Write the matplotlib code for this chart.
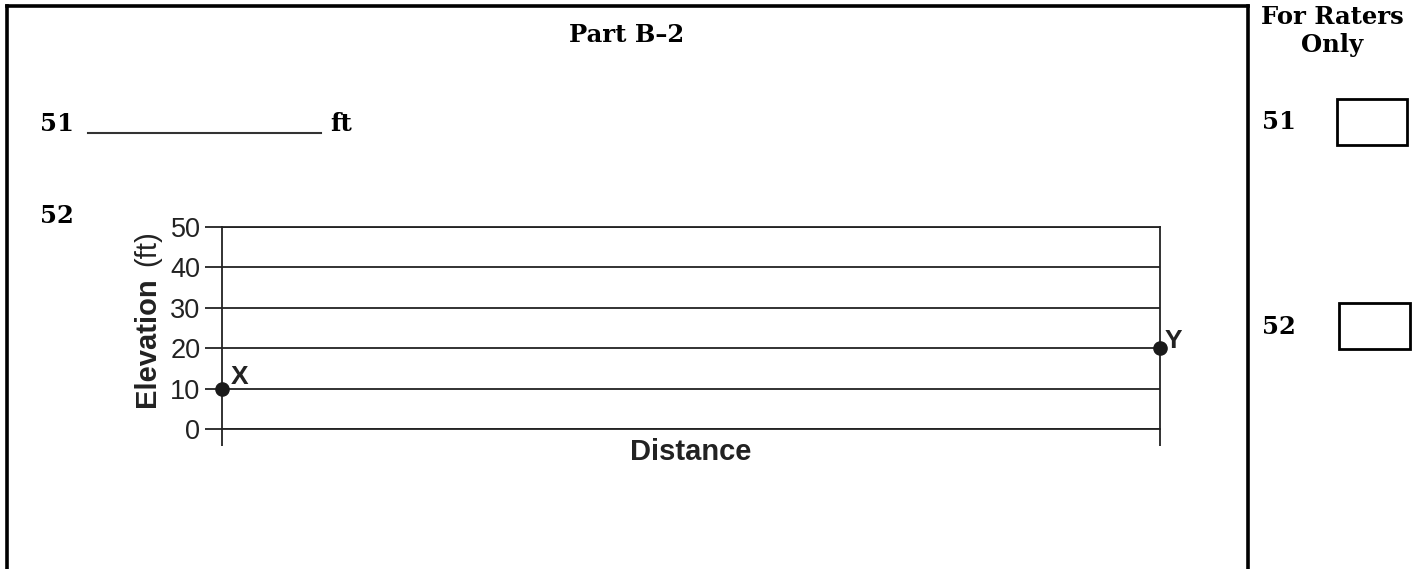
"""Elevation worksheet chart: Part B-2 with points X and Y."""

import matplotlib.pyplot as plt
from matplotlib.lines import Line2D
from matplotlib.patches import Rectangle

W, H = 1421, 569

# chart data
distance = [0, 1]
elevation = [10, 20]
point_names = ["X", "Y"]
y_ticks = [0, 10, 20, 30, 40, 50]
serif = "DejaVu Serif"
sans = "Liberation Sans"
ink = "#222222"


def fx(px):
    return px / W


def fy(py):
    return 1 - py / H


fig = plt.figure(figsize=(W / 100, H / 100), dpi=100)

# outer answer frame
for xs, ys in [((7, 7), (6, H + 5)), ((7, 1248), (6, 6)), ((1248, 1248), (6, H + 5))]:
    fig.add_artist(Line2D([fx(x) for x in xs], [fy(y) for y in ys],
                          transform=fig.transFigure, color="black", lw=2.6))

# header texts
fig.text(fx(627), fy(35), "Part B\u20132", family=serif, weight="bold",
         fontsize=17.5, ha="center", va="center")
fig.text(fx(1332), fy(17), "For Raters", family=serif, weight="bold",
         fontsize=17.5, ha="center", va="center")
fig.text(fx(1332), fy(45), "Only", family=serif, weight="bold",
         fontsize=17.5, ha="center", va="center")

# question 51 / 52
fig.text(fx(40), fy(124), "51", family=serif, weight="bold", fontsize=17.5,
         ha="left", va="center")
fig.add_artist(Line2D([fx(88), fx(321)], [fy(133), fy(133)],
                      transform=fig.transFigure, color="#333333", lw=1.5))
fig.text(fx(330), fy(124), "ft", family=serif, weight="bold", fontsize=17.5,
         ha="left", va="center")
fig.text(fx(40), fy(216), "52", family=serif, weight="bold", fontsize=17.5,
         ha="left", va="center")

# raters column
fig.text(fx(1262), fy(122), "51", family=serif, weight="bold", fontsize=17.5,
         ha="left", va="center")
fig.text(fx(1262), fy(327), "52", family=serif, weight="bold", fontsize=17.5,
         ha="left", va="center")
for x0, y0, x1, y1 in [(1337, 99, 1407, 145), (1339, 303, 1410, 349)]:
    fig.add_artist(Rectangle((fx(x0), fy(y1)), fx(x1 - x0), (y1 - y0) / H,
                             transform=fig.transFigure, fill=False,
                             edgecolor="black", lw=2))

# the graph
ax = fig.add_axes([fx(222), fy(429), fx(1160 - 222), (429 - 227) / H])
ax.set_xlim(0, 1)
ax.set_ylim(0, 50)
ax.set_yticks(y_ticks)
ax.set_xticks(distance)
ax.set_xticklabels([])
ax.yaxis.grid(True, color=ink, lw=1.3)
ax.set_axisbelow(True)
for side in ["top", "bottom", "left", "right"]:
    ax.spines[side].set_color(ink)
    ax.spines[side].set_linewidth(1.3)
ax.tick_params(axis="y", length=12, width=1.3, color=ink, pad=3.5,
               labelsize=19.5, labelfontfamily=sans, labelcolor=ink)
ax.tick_params(axis="x", length=12, width=1.3, color=ink)

ax.plot(distance, elevation, "o", color="#1a1a1a", ms=9.5, clip_on=False,
        zorder=5)
ax.annotate(point_names[0], (distance[0], elevation[0]), xytext=(6.5, 3.5),
            textcoords="offset points", family=sans, weight="bold",
            fontsize=19, ha="left", va="baseline", color=ink)
ax.annotate(point_names[1], (distance[1], elevation[1]), xytext=(3.5, 0),
            textcoords="offset points", family=sans, weight="bold",
            fontsize=19, ha="left", va="baseline", color=ink)

ax.set_xlabel("Distance", family=sans, weight="bold", fontsize=21,
              labelpad=-9, color=ink)
fig.text(fx(147), fy(407), "Elevation", family=sans, weight="bold",
         fontsize=21, rotation=90, ha="center", va="bottom", color=ink)
fig.text(fx(147), fy(230), "(ft)", family=sans, fontsize=21, rotation=90,
         ha="center", va="top", color=ink)

fig.savefig("out.png", dpi=100)
